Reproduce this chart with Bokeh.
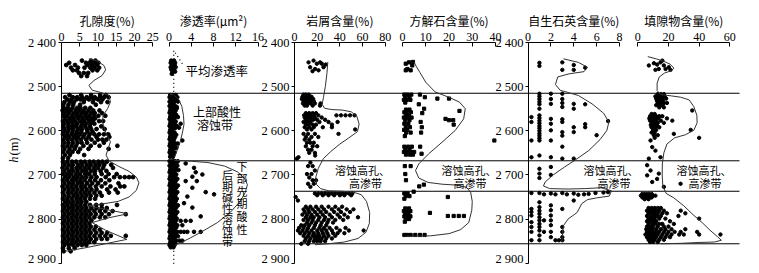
import math
from bokeh.plotting import figure
from bokeh.models import Range1d, LinearAxis, FixedTicker
from bokeh.embed import file_html
from bokeh.resources import INLINE
from bokeh.core.properties import value

# ---------------- data ----------------
depth_ticks = [2400, 2500, 2600, 2700, 2800, 2900]
depth_tick_labels = ["2 400", "2 500", "2 600", "2 700", "2 800", "2 900"]

panel_titles = ["孔隙度(%)", "渗透率(μm²)", "岩屑含量(%)", "方解石含量(%)", "自生石英含量(%)", "填隙物含量(%)"]
panel_ticks = [[0, 5, 10, 15, 20, 25], [0, 4, 8, 12, 16], [0, 20, 40, 60, 80],
               [0, 10, 20, 30, 40], [0, 2, 4, 6, 8], [0, 20, 40, 60]]

zone_depths = [2515, 2668, 2737, 2856]

# porosity (%) : (depth, [values])
por_rows = [
    (2441, [5.6, 8.1, 9.3]), (2446, [2.1, 6.7, 7.7, 8.9, 10.1]), (2451, [1.3, 3.7, 7.1, 8.3, 9.6]),
    (2457, [2.6, 4.5, 6.3, 7.9, 9.0, 10.3]), (2463, [3.1, 4.2, 8.5, 9.8]), (2469, [4.8, 6.1, 7.3]),
    (2476, [5.4, 7.0]),
    (2519, [2.2, 5.4, 8.1, 10.6, 12.1]), (2524, [1.0, 3.1, 4.3, 5.6, 6.9, 8.0, 9.1, 10.5, 11.7, 12.9]),
    (2529, [1.6, 2.7, 4.1, 5.2, 6.3, 7.5, 8.8, 10.0, 11.2]), (2535, [0.8, 2.3, 3.4, 6.1, 8.6, 10.8, 12.6]),
    (2541, [0.5, 1.9, 3.2, 5.1, 9.4]), (2548, [0.6, 1.7, 3.0, 4.3, 5.2, 6.5, 7.9]),
    (2554, [0.3, 1.4, 2.5, 3.9, 5.0, 6.1, 7.4, 8.7, 10.4]), (2560, [0.8, 2.0, 3.3, 4.4, 5.7, 6.8, 8.1, 9.1, 11.1]),
    (2566, [0.5, 1.6, 2.9, 4.1, 5.2, 6.5, 7.6, 8.9, 10.1, 12.0]), (2572, [0.9, 2.2, 3.3, 4.6, 5.8, 7.0, 8.2, 9.2]),
    (2578, [0.4, 1.5, 2.7, 3.8, 5.1, 6.2, 7.5, 8.6, 10.3, 11.4]), (2584, [0.7, 1.9, 3.1, 4.3, 5.6, 6.7, 7.9, 9.0]),
    (2590, [0.5, 1.8, 2.9, 4.0, 5.3, 6.5, 7.8, 10.9]), (2596, [0.8, 2.0, 3.2, 4.5, 5.6, 6.9, 8.1, 9.6, 11.8]),
    (2602, [0.6, 1.7, 3.0, 4.2, 5.4, 7.1, 8.5]),
    (2608, [0.4, 1.6, 2.8, 4.0, 5.1, 6.3, 7.7, 9.0, 10.3, 11.6, 12.8]),
    (2614, [0.9, 2.1, 3.4, 4.5, 6.0, 7.4, 9.6, 13.1]), (2620, [0.5, 1.7, 2.9, 4.1, 5.3, 6.8, 8.2, 10.0, 11.2, 12.3]),
    (2627, [0.7, 1.9, 3.1, 4.4, 5.5, 7.0, 9.1, 11.6]), (2634, [0.4, 1.6, 2.8, 4.0, 6.0, 8.0, 10.4, 15.3]),
    (2641, [0.8, 2.2, 3.6, 5.1, 7.4, 12.9]), (2648, [0.5, 1.8, 3.0, 4.6]), (2655, [0.9, 2.3, 6.2]),
    (2662, [0.4, 1.8]),
    (2670, [0.4, 1.6, 2.9, 4.0, 5.3, 6.4, 7.7, 8.8, 10.1, 11.2, 12.4]),
    (2677, [0.8, 2.0, 3.1, 4.5, 5.6, 6.9, 8.0, 9.3, 10.4, 11.7, 13.6]),
    (2684, [0.3, 1.5, 2.8, 4.1, 5.2, 6.4, 7.6, 8.9, 10.0, 11.4, 14.1]),
    (2691, [0.8, 2.1, 3.2, 4.4, 5.7, 6.8, 8.1, 9.2, 10.7, 12.3]),
    (2698, [0.4, 1.6, 2.7, 4.0, 5.1, 6.5, 7.6, 9.1, 11.0, 12.9, 15.1]),
    (2705, [0.9, 2.0, 3.3, 4.4, 5.6, 6.8, 8.2, 9.6, 12.1, 14.4, 16.0, 17.3, 18.5, 19.6]),
    (2712, [0.4, 1.6, 2.9, 4.0, 5.2, 6.4, 7.8, 9.2, 10.8, 13.1]),
    (2719, [0.8, 2.1, 3.2, 4.5, 5.6, 7.0, 8.4, 10.0, 12.0, 15.6]),
    (2726, [0.3, 1.6, 2.8, 4.0, 5.3, 6.4, 7.8, 9.4, 11.0, 13.4, 16.1, 17.2]),
    (2733, [0.8, 2.0, 3.2, 4.4, 5.6, 6.9, 8.2, 9.6, 12.5, 14.8]),
    (2740, [0.4, 1.7, 2.8, 4.0, 5.2, 6.4, 7.6, 9.0, 10.5, 13.0, 15.4]),
    (2747, [0.8, 2.0, 3.3, 4.4, 5.6, 6.8, 8.0, 9.5, 11.0]),
    (2754, [0.4, 1.6, 2.8, 4.1, 5.2, 6.4, 7.8, 9.2]),
    (2761, [0.9, 2.0, 3.2, 4.4, 5.5, 6.8]),
    (2768, [0.4, 1.6, 2.8, 4.0, 5.2, 6.5, 7.8, 9.5, 11.0, 15.2]),
    (2775, [0.8, 2.0, 3.2, 4.4, 5.6, 6.8, 8.2, 9.6, 11.0, 12.4]),
    (2782, [0.4, 1.6, 2.8, 4.0, 5.2, 6.4, 7.6, 9.0, 10.5, 12.0, 14.0]),
    (2789, [0.8, 2.0, 3.2, 4.4, 5.6, 6.8, 8.0, 9.4, 11.0, 13.0, 17.6]),
    (2796, [0.4, 1.6, 2.8, 4.0, 5.2, 6.4, 7.6, 9.0, 10.5, 12.0]),
    (2803, [0.8, 2.0, 3.2, 4.4, 5.6, 6.8, 8.2]),
    (2810, [0.4, 1.6, 2.8, 4.0, 5.2, 6.4, 7.6]),
    (2817, [0.8, 2.0, 3.2, 4.4, 5.6, 6.8, 8.0, 9.4]),
    (2824, [0.4, 1.6, 2.8, 4.0, 5.2, 6.4, 7.6, 9.0, 10.5]),
    (2831, [0.8, 2.0, 3.2, 4.4, 5.6, 6.8, 8.0, 9.5, 11.0, 12.5]),
    (2838, [0.4, 1.6, 2.8, 4.0, 5.2, 6.4, 7.6, 9.0, 10.5, 12.0, 13.5, 17.6]),
    (2845, [0.8, 2.0, 3.2, 4.4, 5.6, 6.8, 8.0, 9.5, 11.0, 12.5]),
    (2852, [0.4, 1.6, 2.8, 4.0, 5.2, 6.4, 7.6, 9.0]),
    (2859, [0.8, 2.0, 3.2, 4.4, 5.6, 6.8]),
    (2866, [0.4, 2.0, 3.6]), (2873, [0.6, 2.5]),
]
por_curve_x = [7.5, 9.8, 11.6, 12.1, 11.1, 8.9, 7.5, 8.4, 11.1, 13.0, 13.4, 12.6, 11.4, 11.2, 12.2, 13.4,
               12.6, 12.2, 13.0, 15.5, 18.5, 20.5, 21.2, 20.5, 18.5, 15.5, 11.0, 7.5, 12.0, 18.2, 13.0,
               8.4, 12.0, 17.9, 12.0, 6.0, 1.0]
por_curve_d = [2437, 2442, 2452, 2462, 2475, 2486, 2497, 2508, 2514, 2520, 2535, 2550, 2565, 2580, 2605,
               2625, 2645, 2655, 2668, 2680, 2692, 2705, 2718, 2735, 2750, 2760, 2766, 2770, 2778, 2788,
               2797, 2808, 2825, 2846, 2856, 2866, 2873]

# permeability (um2)
perm_rows = [
    (2441, [0.4, 0.9]), (2446, [0.3, 0.8, 1.1]), (2451, [0.5, 1.0]), (2456, [0.3, 0.7, 1.2]),
    (2461, [0.4, 0.9]), (2466, [0.6, 1.1]), (2471, [0.5]),
    (2519, [0.2, 0.7, 1.2]), (2524, [0.1, 0.6, 1.0, 1.5]), (2529, [0.3, 0.8, 1.3]), (2534, [0.1, 0.5, 1.0, 1.6]),
    (2539, [0.3, 0.8]), (2544, [0.1, 0.6, 1.1]), (2549, [0.3, 0.9, 1.4]), (2554, [0.2, 0.7, 1.2]),
    (2559, [0.1, 0.5, 1.0]), (2564, [0.3, 0.8, 1.3]), (2569, [0.2, 0.6, 1.1, 1.6]), (2574, [0.1, 0.5, 0.9]),
    (2579, [0.3, 0.8, 1.2]), (2584, [0.2, 0.6, 1.0]), (2589, [0.1, 0.5, 0.9, 1.4]), (2594, [0.3, 0.7, 1.1]),
    (2599, [0.2, 0.6]), (2604, [0.1, 0.5, 1.0]), (2609, [0.3, 0.8, 1.3]), (2614, [0.2, 0.6, 1.1]),
    (2619, [0.1, 0.5, 0.9]), (2624, [0.3, 0.8]), (2629, [0.2, 0.7, 1.2, 1.6]), (2634, [0.1, 0.6, 1.0]),
    (2639, [0.3, 0.8, 1.3]), (2644, [0.2, 0.6]), (2649, [0.1, 0.5, 1.0]), (2654, [0.3, 0.8]), (2659, [0.2, 0.7]),
    (2669, [0.1, 0.6, 1.1, 1.6]), (2674, [0.3, 0.8, 1.3, 3.0]), (2679, [0.1, 0.5, 1.0, 1.5]),
    (2684, [0.3, 0.8, 1.2, 4.5]), (2689, [0.2, 0.6, 1.1, 1.7]), (2694, [0.1, 0.5, 1.0, 4.8]),
    (2699, [0.3, 0.8, 1.3, 6.0]), (2704, [0.2, 0.6, 1.1, 4.2]), (2709, [0.1, 0.5, 1.0, 1.5]),
    (2714, [0.3, 0.8, 1.2, 3.0, 5.0]), (2719, [0.2, 0.7, 1.1]), (2724, [0.1, 0.5, 1.0, 1.6]),
    (2729, [0.3, 0.8, 1.3, 4.2]), (2734, [0.2, 0.6, 1.0]), (2739, [0.1, 0.5, 1.0, 1.5, 6.6]),
    (2744, [0.3, 0.7, 1.2, 8.1]), (2749, [0.2, 0.6, 1.1, 3.3]), (2754, [0.1, 0.5, 1.0, 1.4]),
    (2759, [0.3, 0.8, 1.2]), (2764, [0.2, 0.6, 1.1, 2.7]), (2769, [0.1, 0.5, 1.0, 1.6]),
    (2774, [0.3, 0.8, 1.3, 4.2]), (2779, [0.2, 0.6, 1.0]), (2784, [0.1, 0.5, 1.0, 1.5]),
    (2789, [0.3, 0.7, 1.2]), (2794, [0.2, 0.6, 1.1, 5.7]), (2799, [0.1, 0.5, 1.0, 1.4]),
    (2804, [0.3, 0.8, 1.2, 2.1, 3.0, 3.9]), (2809, [0.2, 0.6, 1.1]), (2814, [0.1, 0.5, 1.0, 1.5, 2.4]),
    (2819, [0.3, 0.8, 1.3]), (2824, [0.2, 0.6, 1.0]), (2829, [0.1, 0.5, 1.0, 1.5, 2.1, 2.7, 3.3, 4.5, 5.7]),
    (2834, [0.3, 0.7, 1.2]), (2839, [0.2, 0.6, 1.1, 1.6]), (2844, [0.1, 0.5, 1.0]),
    (2849, [0.3, 0.8, 1.3, 1.9, 2.4]), (2854, [0.2, 0.6, 1.1]), (2859, [0.1, 0.5, 1.0]), (2864, [0.3, 0.8]),
    (2546, [1.4]), (2584, [2.1]), (2593, [1.8]), (2622, [2.4]),
]
perm_up_x = [0.2, 1.0, 1.8, 2.3, 2.6, 2.7, 2.4, 2.0, 1.5, 1.0]
perm_up_d = [2517, 2520, 2530, 2545, 2565, 2585, 2605, 2625, 2643, 2660]
perm_low_x = [1.0, 4.0, 7.0, 10.0, 12.3, 13.6, 14.1, 13.7, 12.8, 11.0, 8.7, 6.0, 3.8, 2.2, 1.0]
perm_low_d = [2667, 2669, 2672, 2680, 2693, 2708, 2722, 2740, 2760, 2785, 2808, 2828, 2843, 2853, 2860]
perm_avg_x = [2.4, 0.85, 0.85]
perm_avg_d = [2448, 2418, 2915]

# lithic fragments (%)
lith_rows = [
    (2441, [16.8]), (2445, [12.4, 22.6]), (2448, [19.7, 24.1]), (2450, [27.5]), (2456, [13.8, 25.6]),
    (2460, [18.2]), (2463, [21.2]), (2465, [15.9]),
    (2518, [8.0, 10.0, 12.5]), (2523, [7.0, 9.5, 11.0, 13.0, 15.0]), (2528, [6.5, 8.5, 10.0, 12.0, 14.0, 16.5]),
    (2533, [8.0, 9.5, 11.5, 13.5, 17.0]), (2538, [7.5, 10.0, 12.0, 14.5, 18.0, 23.0]), (2543, [9.0, 11.0, 16.0, 22.5]),
    (2560, [10.0, 13.0, 16.0, 19.0]), (2565, [8.5, 11.0, 14.0, 17.0, 21.0, 37.0, 41.0, 45.0, 49.0, 53.0]),
    (2570, [9.0, 12.0, 15.0, 18.0, 24.0]), (2575, [10.0, 13.5, 16.5, 20.0, 27.0]),
    (2580, [8.0, 11.0, 14.0, 22.0, 30.0, 38.0]), (2586, [10.0, 12.5, 16.0, 19.0, 33.0]),
    (2592, [9.0, 13.0, 17.0, 25.0, 33.0]), (2597, [11.0, 15.0, 53.5]), (2607, [8.0, 12.0, 18.0, 38.8]),
    (2614, [10.0, 15.0, 21.0]), (2620, [9.0, 13.0]), (2627, [11.0, 14.0, 17.0]), (2635, [10.0, 16.0, 20.0]),
    (2643, [12.0, 15.0]), (2650, [13.0, 18.0]), (2656, [18.2]), (2660, [3.5]), (2663, [2.1]),
    (2672, [14.0]), (2680, [12.0, 16.0]), (2690, [18.0]), (2698, [11.0, 15.0]), (2706, [13.0]),
    (2712, [16.0, 19.0]), (2720, [12.0, 17.0]), (2727, [14.0]),
    (2742, [18.0, 21.0, 24.0, 27.0, 30.0, 33.0, 36.0, 39.0, 42.0, 45.0, 48.0, 51.0]),
    (2746, [20.0, 25.0, 30.0, 35.0, 40.0, 44.0, 50.0]), (2750, [1.0]), (2758, [3.0]),
    (2772, [10.0, 14.0, 19.0, 24.0, 30.0, 36.0, 42.0]), (2778, [8.0, 12.0, 16.0, 21.0, 26.0, 33.0, 39.0, 46.0, 52.0]),
    (2784, [9.0, 13.0, 18.0, 23.0, 28.0, 35.0, 41.0, 49.0]), (2790, [7.0, 11.0, 15.0, 20.0, 25.0, 31.0, 38.0, 44.0]),
    (2796, [10.0, 14.0, 17.0, 22.0, 27.0, 33.0, 40.0, 47.0, 56.0]), (2802, [8.0, 12.0, 16.0, 21.0, 26.0, 30.0, 36.0, 43.0]),
    (2808, [11.0, 15.0, 19.0, 24.0, 29.0, 34.0]), (2814, [6.0, 9.0, 13.0, 18.0, 23.0, 28.0]),
    (2820, [4.0, 8.0, 12.0, 17.0, 22.0, 26.0, 31.0, 37.0, 45.0]),
    (2826, [3.0, 7.0, 11.0, 15.0, 20.0, 24.0, 28.0, 33.0, 40.0, 48.0, 61.0]),
    (2832, [5.0, 9.0, 13.0, 17.0, 21.0, 25.0, 29.0, 34.0, 38.0, 44.0]),
    (2838, [8.0, 12.0, 16.0, 19.0, 22.0, 26.0, 30.0, 36.0]), (2844, [10.0, 14.0, 18.0, 21.0, 24.0, 28.0, 33.0]),
    (2850, [9.0, 13.0, 17.0, 20.0, 23.0, 27.0]), (2856, [6.0, 12.0]),
]
lith_curve_x = [29.4, 28.6, 27.2, 25.5, 24.4, 26.5, 33, 42, 50, 55, 57, 55.5, 48, 40, 32, 25.5, 21, 18.8,
                19.5, 23, 30, 42, 52, 59, 63.5, 66.3, 66, 63, 56, 44, 30, 18]
lith_curve_d = [2444, 2470, 2500, 2525, 2540, 2549, 2552, 2553, 2557, 2567, 2585, 2602, 2616, 2630, 2647,
                2663, 2685, 2705, 2722, 2731, 2736, 2737, 2739, 2745, 2760, 2785, 2810, 2830, 2844, 2852,
                2856, 2858]

# calcite (%)
calc_rows = [
    (2444, [4.5]), (2445, [2.8]), (2448, [1.4]), (2452, [4.2]), (2460, [2.1]), (2463, [1.4, 3.5]),
    (2518, [0.8, 2.2, 3.8, 7.5]), (2524, [1.2, 3.0, 9.6]), (2527, [15.0, 20.0]), (2530, [0.6, 1.8, 3.4]),
    (2536, [1.2]), (2540, [7.0]), (2550, [9.3]), (2552, [1.5, 3.0]), (2555, [24.5]), (2558, [0.8, 2.0, 3.6]),
    (2560, [8.5]), (2564, [1.4, 2.8]), (2570, [0.6, 2.2, 3.9]), (2573, [18.5]), (2576, [1.2, 3.0, 20.0, 21.8]),
    (2580, [7.8]), (2584, [0.8, 2.5]), (2586, [22.0]), (2592, [1.4, 3.2, 8.3]), (2598, [0.7, 2.0]),
    (2604, [1.6, 3.5, 8.0]), (2612, [1.0]), (2622, [39.5]), (2636, [0.8, 2.4, 4.0, 7.6]), (2642, [1.2, 3.0]),
    (2648, [0.6, 2.0, 3.6, 5.0]), (2652, [8.2]), (2654, [1.5, 3.2, 4.5]),
    (2680, [1.0, 3.5]), (2698, [1.2]), (2712, [1.5]), (2722, [9.2]), (2726, [7.2]), (2738, [4.8]),
    (2742, [0.8, 2.2]), (2748, [1.4, 3.0]), (2750, [19.5]), (2754, [0.8]), (2776, [1.2, 2.8]),
    (2782, [0.6, 2.0, 3.4]), (2786, [11.8]), (2788, [1.2, 2.6]), (2793, [19.5, 22.0, 24.2, 26.4]),
    (2794, [0.8, 2.0, 3.4]), (2800, [1.4, 2.8]), (2806, [1.0]), (2836, [0.8, 2.0, 3.5, 5.5, 7.5, 9.5]),
]
calc_curve_x = [4.9, 6.0, 7.5, 10, 14, 19.9, 24.5, 27, 26.3, 22.7, 17, 11.3, 7.0, 5.6, 7.0, 11, 17, 23,
                27.5, 29.3, 30, 29.8, 28.5, 25, 20, 12, 5, 1.0]
calc_curve_d = [2444, 2455, 2468, 2490, 2512, 2524, 2535, 2550, 2573, 2599, 2626, 2652, 2675, 2690, 2707,
                2717, 2721, 2723, 2728, 2739, 2760, 2780, 2808, 2824, 2833, 2838, 2839, 2839]

# authigenic quartz (%) : (value, [depths])
qtz_cols = [
    (0.3, [2569, 2580, 2622, 2660, 2741, 2777, 2784, 2792, 2807, 2818, 2829, 2848]),
    (1.0, [2446, 2453, 2516, 2522, 2528, 2534, 2540, 2550, 2565, 2571, 2577, 2583, 2589, 2594, 2600, 2606,
           2611, 2617, 2622, 2656, 2686, 2697, 2707, 2741, 2762, 2773, 2781, 2788, 2796, 2803, 2811, 2818,
           2826, 2837, 2848]),
    (1.4, [2744, 2803, 2829]),
    (2.0, [2516, 2528, 2539, 2573, 2584, 2599, 2622, 2660, 2682, 2700, 2742, 2769, 2780, 2792, 2803, 2814,
           2829, 2841]),
    (2.4, [2744, 2848]),
    (2.7, [2848]),
    (3.0, [2445, 2462, 2516, 2528, 2537, 2546, 2574, 2580, 2603, 2611, 2636, 2663, 2741, 2777, 2818, 2829,
           2841, 2848]),
    (3.4, [2744]),
    (4.0, [2451, 2462, 2539, 2550, 2592, 2603, 2663, 2742, 2758]),
    (4.4, [2745]),
    (4.9, [2744]),
    (5.0, [2457, 2540, 2585, 2592]),
    (5.3, [2743]),
    (5.9, [2741]),
    (6.0, [2610]),
    (6.6, [2740]),
    (7.0, [2578, 2739]),
]
qtz_curve_x = [3.1, 4.4, 5.2, 4.9, 3.6, 2.6, 2.4, 2.8, 3.6, 4.4, 5.6, 6.6, 7.07, 6.9, 6.3, 5.3, 4.2, 3.2,
               2.2, 1.5, 1.35, 1.9, 3.5, 5.0, 6.4, 7.3, 7.1, 6.0, 5.2, 4.7, 4.3, 3.5, 3.1, 3.0, 2.95]
qtz_curve_d = [2437, 2445, 2456, 2466, 2471, 2478, 2495, 2508, 2514, 2520, 2539, 2560, 2580, 2599, 2620,
               2645, 2665, 2682, 2700, 2716, 2725, 2731, 2732, 2731, 2729, 2736, 2748, 2752, 2756, 2765,
               2785, 2800, 2815, 2840, 2852]

# interstitial material (%)
fill_rows = [
    (2441, [16.0]), (2445, [14.8]), (2447, [10.5]), (2450, [12.6]), (2452, [7.2, 17.0]), (2456, [20.2]),
    (2460, [13.7, 18.1]), (2462, [11.5, 21.3]),
    (2517, [13.0, 15.0, 17.0]), (2522, [11.5, 13.5, 15.5, 17.5]), (2527, [12.0, 14.0, 16.0, 18.5]),
    (2532, [12.5, 14.5, 16.5]), (2537, [13.0, 15.0, 17.0, 19.0]), (2542, [12.0, 14.0, 16.0]),
    (2547, [14.0, 17.0]), (2554, [35.5]), (2562, [9.0, 11.0]), (2567, [8.0, 10.0, 12.0, 14.0, 16.0]),
    (2572, [7.5, 9.5, 11.5, 13.5, 19.0]), (2577, [8.0, 10.0, 12.0, 15.0, 22.5]), (2582, [9.0, 11.0, 13.0, 17.0]),
    (2587, [8.5, 10.5, 12.5]), (2592, [9.0, 11.5, 14.0]), (2598, [10.0, 12.0, 34.5]), (2604, [9.0, 11.0]),
    (2607, [23.5]), (2610, [10.5, 13.0]), (2616, [11.0, 40.0]), (2622, [8.3]), (2637, [9.4]),
    (2645, [11.5]), (2660, [14.8]),
    (2663, [7.2]), (2678, [6.1]), (2690, [8.3]), (2697, [13.7]), (2701, [6.1]), (2709, [12.6]),
    (2716, [9.4]), (2720, [27.9]), (2727, [17.0]),
    (2743, [3.0, 5.0, 7.0, 9.0]), (2747, [2.0, 4.0, 6.0, 8.0, 10.0, 11.5]), (2751, [3.0, 5.0, 7.0, 9.0]),
    (2755, [4.5, 7.0]),
    (2775, [7.0, 9.0, 11.0, 13.0, 15.0]), (2781, [6.0, 8.0, 10.0, 12.0, 14.0, 17.0, 28.0]),
    (2787, [7.0, 9.0, 11.0, 13.0, 16.0, 19.0, 31.0]), (2793, [6.0, 8.5, 10.5, 12.5, 15.0, 26.5]),
    (2799, [7.0, 9.0, 11.0, 14.0, 18.0, 40.0]), (2805, [6.0, 8.0, 10.0, 12.0, 21.0]),
    (2811, [7.0, 9.5, 11.5, 14.0, 16.0, 23.5]), (2817, [6.0, 8.0, 10.0, 13.0, 17.0, 20.0]),
    (2823, [5.5, 7.5, 9.5, 12.0, 15.0, 18.0, 22.0, 31.0]),
    (2829, [6.0, 8.0, 10.0, 12.0, 14.0, 17.0, 20.0, 24.0, 28.0, 38.7]),
    (2835, [5.0, 7.0, 9.0, 11.0, 13.0, 16.0, 19.0, 22.0, 27.0, 30.0, 40.0, 53.9]),
    (2841, [6.0, 8.0, 10.0, 12.0, 15.0, 18.0, 21.0]), (2847, [7.0, 9.0, 11.0, 14.0, 17.0]),
    (2852, [8.0, 10.0, 13.0]),
]
fill_curve_x = [6.5, 12, 16.5, 21, 23.5, 22, 17.5, 14, 12.6, 12.6, 15, 22, 28, 33.5, 36.5, 38.5, 38.7, 36.5,
                31, 24, 19, 17, 16, 15.9, 16.3, 18.5, 23.5, 30, 36, 42, 47, 52, 54.5, 50, 40, 28, 15]
fill_curve_d = [2432, 2437, 2442, 2449, 2458, 2464, 2469, 2478, 2492, 2509, 2518, 2521, 2524, 2530, 2545,
                2565, 2582, 2599, 2609, 2616, 2630, 2650, 2675, 2700, 2725, 2742, 2752, 2770, 2790, 2808,
                2825, 2840, 2848, 2852, 2853, 2855, 2856]

# ---------------- layout ----------------
W, H = 751, 265
LEFT, TOP = 0, 0          # picture coordinates of the canvas' top-left corner
Y2400, Y2900 = 42.0, 262.7
MPP = 500.0 / (Y2900 - Y2400)


def depth_at(Y):
    return 2400 + (Y - Y2400) * MPP


# panel name, axis start value, axis end value, picture x of start, picture x of end
panels = [("p1", 0, 25, 61.0, 152.3), ("p2", 0, 16, 168.5, 257.5), ("p3", 0, 80, 294.0, 384.7),
          ("p4", 0, 40, 402.0, 495.0), ("p5", 0, 8, 527.5, 619.0), ("p6", 0, 60, 637.3, 729.3)]
yaxis_x = [60.5, 294.0, 528.0]
LINE_END = 739.0

p = figure(width=W, height=H, x_range=Range1d(LEFT, LEFT + W),
           y_range=Range1d(depth_at(TOP + H), depth_at(TOP)),
           x_axis_type=None, y_axis_type=None, toolbar_location=None, output_backend="svg",
           min_border=0, min_border_left=0, min_border_right=0, min_border_top=0, min_border_bottom=0)
p.outline_line_color = None
p.background_fill_color = "white"
p.border_fill_color = "white"

extra = {}
for name, v0, v1, x0, x1 in panels:
    ppu = (x1 - x0) / (v1 - v0)
    s = v0 - (x0 - LEFT) / ppu
    extra[name] = Range1d(s, s + W / ppu)
p.extra_x_ranges = extra

SERIF = "'Liberation Serif'"
CJK = "Noto Sans CJK SC"

for (name, v0, v1, x0, x1), ticks, title in zip(panels, panel_ticks, panel_titles):
    ax = LinearAxis(x_range_name=name, fixed_location=2400, bounds=(v0, v1), ticker=FixedTicker(ticks=ticks),
                    major_tick_in=4, major_tick_out=0, minor_tick_line_color=None,
                    major_label_text_font=SERIF, major_label_text_font_size="12px",
                    major_label_text_color="black", major_label_standoff=2,
                    axis_line_color="black", major_tick_line_color="black")
    p.add_layout(ax, "above")
    p.text(x=[(v0 + v1) / 2], y=[depth_at(20)], text=[title], x_range_name=name,
           text_font=value(CJK), text_font_size="12px", text_align="center", text_baseline="middle",
           text_color="black")

for xl in yaxis_x:
    yax = LinearAxis(fixed_location=xl, bounds=(2400, 2900), ticker=FixedTicker(ticks=depth_ticks),
                     major_label_overrides=dict(zip(depth_ticks, depth_tick_labels)),
                     major_tick_in=0, major_tick_out=3, minor_tick_line_color=None,
                     major_label_text_font=SERIF, major_label_text_font_size="12.5px",
                     major_label_text_color="black", major_label_standoff=2,
                     axis_line_color="black", major_tick_line_color="black")
    p.add_layout(yax, "left")

# zone boundary lines
zx0 = [yaxis_x[0], yaxis_x[0], yaxis_x[1], yaxis_x[0]]
p.segment(x0=zx0, y0=zone_depths, x1=[LINE_END] * 4, y1=zone_depths, line_color="black", line_width=1)


def flat_rows(rows):
    xs, ys = [], []
    for d, vals in rows:
        for v in vals:
            xs.append(v)
            ys.append(d)
    return xs, ys


def flat_cols(cols):
    xs, ys = [], []
    for v, ds in cols:
        for d in ds:
            xs.append(v)
            ys.append(d)
    return xs, ys


DOT = dict(color="black", line_color="black")
x, y = flat_rows(por_rows)
p.scatter(x, y, size=3.8, x_range_name="p1", **DOT)
x, y = flat_rows(perm_rows)
p.scatter(x, y, size=3.6, x_range_name="p2", **DOT)
x, y = flat_rows(lith_rows)
p.scatter(x, y, size=3.4, x_range_name="p3", **DOT)
x, y = flat_rows(calc_rows)
p.scatter(x, y, size=3.2, marker="square", x_range_name="p4", **DOT)
x, y = flat_cols(qtz_cols)
p.scatter(x, y, size=3.4, x_range_name="p5", **DOT)
x, y = flat_rows(fill_rows)
p.scatter(x, y, size=3.4, x_range_name="p6", **DOT)

CURVE = dict(line_color="#333333", line_width=1)
p.line(por_curve_x, por_curve_d, x_range_name="p1", **CURVE)
p.line(perm_up_x, perm_up_d, x_range_name="p2", **CURVE)
p.line(perm_low_x, perm_low_d, x_range_name="p2", **CURVE)
p.line(perm_avg_x, perm_avg_d, x_range_name="p2", line_color="black", line_width=1.3, line_dash="1 3")
p.line(lith_curve_x, lith_curve_d, x_range_name="p3", **CURVE)
p.line(calc_curve_x, calc_curve_d, x_range_name="p4", **CURVE)
p.line(qtz_curve_x, qtz_curve_d, x_range_name="p5", **CURVE)
p.line(fill_curve_x, fill_curve_d, x_range_name="p6", **CURVE)


# ---------------- annotations ----------------
def put(xs, Ys, texts, size="11px", align="left", font=CJK, style="normal", angle=0.0):
    p.text(x=xs, y=[depth_at(Y) for Y in Ys], text=texts, text_font=value(font), text_font_size=size,
           text_align=align, text_baseline="middle", text_color="black", text_font_style=style, angle=angle)


put([185], [70], ["平均渗透率"], size="12.5px")
put([216.5, 214.5], [110.5, 123.5], ["上部酸性", "溶蚀带"], size="12px", align="center")
col_r = "下部先期酸性"
col_l = "后期碱性溶蚀带"
put([241.5] * len(col_r), [165 + 12.6 * i for i in range(len(col_r))], list(col_r), size="11px", align="center")
put([227.0] * len(col_l), [174 + 11.0 * i for i in range(len(col_l))], list(col_l), size="11px", align="center")
for xa, xb in [(334.5, 348.5), (441.0, 453.0), (583.0, 597.0), (676.0, 688.0)]:
    put([xa, xb], [169.5, 182.0], ["溶蚀高孔、", "高渗带"], size="11px")

put([13.0], [159], ["h"], size="12.5px", align="center", font=SERIF, style="italic", angle=math.pi / 2)
put([13.0], [146], ["(m)"], size="12.5px", align="center", font=SERIF, angle=math.pi / 2)

open("out.html", "w").write(file_html(p, INLINE))
